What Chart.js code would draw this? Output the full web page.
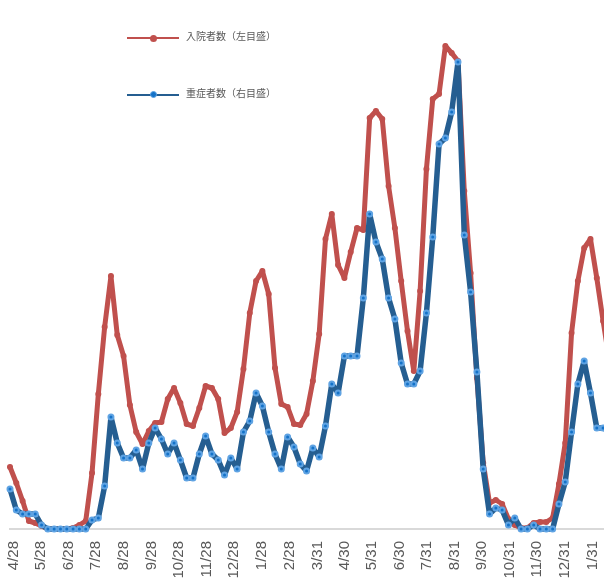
<!DOCTYPE html>
<html lang="ja">
<head>
<meta charset="utf-8">
<title>入院者数・重症者数</title>
<script src="https://cdn.jsdelivr.net/npm/chart.js@4.4.1/dist/chart.umd.min.js"></script>
<style>
  body { margin: 0; background: #fff; }
  #wrap { position: relative; width: 604px; height: 584px; }
  .legend-item { position: absolute; left: 127px; width: 200px; height: 12px; font-family: "Noto Sans CJK JP", sans-serif; font-size: 10px; line-height: 12px; color: #595959; white-space: nowrap; }
  .legend-line { position: absolute; left: 0; top: 5px; width: 52px; height: 2px; }
  .legend-dot { position: absolute; left: 22.5px; top: 2.5px; width: 7px; height: 7px; border-radius: 50%; box-sizing: border-box; }
  .legend-text { position: absolute; left: 59px; top: -2px; }
</style>
</head>
<body>
<div id="wrap">
  <canvas id="chart" width="604" height="584"></canvas>
</div>
<script>
let startDate = "2020-04-24";
let endDate = "2022-02-12";

let seriesNames = ["入院者数（左目盛）", "重症者数（右目盛）"];

let weekDates = [
  "2020-04-24", "2020-05-01", "2020-05-08", "2020-05-15", "2020-05-22", "2020-05-29",
  "2020-06-05", "2020-06-12", "2020-06-19", "2020-06-26", "2020-07-03", "2020-07-10",
  "2020-07-17", "2020-07-24", "2020-07-31", "2020-08-07", "2020-08-14", "2020-08-21",
  "2020-08-28", "2020-09-04", "2020-09-11", "2020-09-18", "2020-09-25", "2020-10-02",
  "2020-10-09", "2020-10-16", "2020-10-23", "2020-10-30", "2020-11-06", "2020-11-13",
  "2020-11-20", "2020-11-27", "2020-12-04", "2020-12-11", "2020-12-18", "2020-12-25",
  "2021-01-01", "2021-01-08", "2021-01-15", "2021-01-22", "2021-01-29", "2021-02-05",
  "2021-02-12", "2021-02-19", "2021-02-26", "2021-03-05", "2021-03-12", "2021-03-19",
  "2021-03-26", "2021-04-02", "2021-04-09", "2021-04-16", "2021-04-23", "2021-04-30",
  "2021-05-07", "2021-05-14", "2021-05-21", "2021-05-28", "2021-06-04", "2021-06-11",
  "2021-06-18", "2021-06-25", "2021-07-02", "2021-07-09", "2021-07-16", "2021-07-23",
  "2021-07-30", "2021-08-06", "2021-08-13", "2021-08-20", "2021-08-27", "2021-09-03",
  "2021-09-10", "2021-09-17", "2021-09-24", "2021-10-01", "2021-10-08", "2021-10-15",
  "2021-10-22", "2021-10-29", "2021-11-05", "2021-11-12", "2021-11-19", "2021-11-26",
  "2021-12-03", "2021-12-10", "2021-12-17", "2021-12-24", "2021-12-31", "2022-01-07",
  "2022-01-14", "2022-01-21", "2022-01-28", "2022-02-04", "2022-02-11", "2022-02-18",
];

// 入院者数 (left axis)
let admitted = [
  310, 230, 140, 40, 30, 15, 0, 0, 0, 0, 5, 20,
  40, 280, 675, 1010, 1265, 970, 865, 620, 485, 425, 490, 530,
  535, 650, 705, 630, 525, 515, 605, 715, 705, 650, 480, 505,
  585, 800, 1080, 1240, 1290, 1175, 805, 625, 610, 525, 520, 575,
  740, 975, 1450, 1575, 1320, 1255, 1385, 1505, 1495, 2055, 2090, 2050,
  1715, 1505, 1240, 990, 790, 1190, 1800, 2150, 2175, 2415, 2380, 2340,
  1690, 1280, 755, 330, 130, 145, 125, 50, 20, 5, 5, 30,
  35, 35, 55, 225, 430, 980, 1240, 1405, 1450, 1255, 1040, 840,
];

// 重症者数 (right axis)
let severe = [
  40, 19, 15, 15, 15, 4, 0, 0, 0, 0, 0, 0,
  0, 9, 11, 43, 112, 86, 71, 71, 79, 60, 86, 101,
  90, 75, 86, 69, 51, 51, 75, 93, 75, 69, 54, 71,
  60, 97, 108, 136, 123, 97, 75, 60, 92, 82, 65, 58,
  81, 72, 103, 145, 136, 173, 173, 173, 231, 315, 287, 270,
  231, 210, 166, 145, 145, 158, 216, 292, 385, 391, 417, 467,
  294, 237, 157, 60, 15, 21, 19, 4, 11, 0, 0, 4,
  0, 0, 0, 25, 47, 97, 145, 168, 136, 101, 101, 98,
];

let tickDates = [
  "2020-04-28", "2020-05-28", "2020-06-28", "2020-07-28", "2020-08-28", "2020-09-28",
  "2020-10-28", "2020-11-28", "2020-12-28", "2021-01-28", "2021-02-28", "2021-03-31",
  "2021-04-30", "2021-05-31", "2021-06-30", "2021-07-31", "2021-08-31", "2021-09-30",
  "2021-10-31", "2021-11-30", "2021-12-31", "2022-01-31",
];
let tickLabels = [
  "4/28", "5/28", "6/28", "7/28", "8/28", "9/28", "10/28", "11/28", "12/28", "1/28", "2/28",
  "3/31", "4/30", "5/31", "6/30", "7/31", "8/31", "9/30", "10/31", "11/30", "12/31", "1/31",
];

function dayOf(dateText) {
  return (Date.parse(dateText) - Date.parse(startDate)) / 86400000;
}

function toPoints(values) {
  let points = [];
  for (let i = 0; i < values.length; i++) {
    points.push({ x: dayOf(weekDates[i]), y: values[i] });
  }
  return points;
}

let redLine = "#C0504D";
let blueLine = "#255E91";
let blueRing = "#5FA3E3";
let blueDot = "#1472C8";

const ctx = document.getElementById("chart");

let chart = new Chart(ctx, {
  type: "line",
  data: {
    datasets: [
      {
        label: seriesNames[0],
        data: toPoints(admitted),
        yAxisID: "y",
        order: 2,
        clip: false,
        borderColor: redLine,
        backgroundColor: redLine,
        borderWidth: 5,
        borderJoinStyle: "round",
        borderCapStyle: "round",
        pointRadius: 3,
        pointBorderWidth: 0,
        pointBackgroundColor: redLine,
      },
      {
        label: seriesNames[1],
        data: toPoints(severe),
        yAxisID: "y1",
        order: 1,
        clip: false,
        borderColor: blueLine,
        backgroundColor: blueLine,
        borderWidth: 5.5,
        borderJoinStyle: "round",
        borderCapStyle: "round",
        pointRadius: 2.5,
        pointBorderWidth: 2,
        pointBorderColor: blueRing,
        pointBackgroundColor: blueDot,
      },
    ],
  },
  options: {
    responsive: false,
    animation: false,
    layout: {
      autoPadding: false,
      padding: { left: 10, right: 0, top: 0, bottom: 0 },
    },
    plugins: {
      legend: { display: false },
      tooltip: { enabled: false },
    },
    scales: {
      x: {
        type: "linear",
        min: 0,
        max: dayOf(endDate),
        grid: { display: false, drawTicks: false },
        border: { display: true, color: "#D9D9D9", width: 2 },
        ticks: {
          autoSkip: false,
          minRotation: 90,
          maxRotation: 90,
          padding: 12,
          color: "#595959",
          font: { family: "'Liberation Sans', Arial, sans-serif", size: 15 },
          callback: function (value, index) {
            return tickLabels[index];
          },
        },
        afterBuildTicks: function (scale) {
          scale.ticks = tickDates.map(function (d) {
            return { value: dayOf(d) };
          });
        },
        afterFit: function (scale) {
          scale.height = 55;
          scale.paddingLeft = 0;
          scale.paddingRight = 0;
        },
      },
      y: { display: false, min: 0, max: 2645 },
      y1: { display: false, position: "right", min: 0, max: 529 },
    },
  },
});

// legend laid out like the original: two rows far apart, top left
let legendTops = [32, 88.5];
let wrap = document.getElementById("wrap");
chart.data.datasets.forEach(function (ds, i) {
  let item = document.createElement("div");
  item.className = "legend-item";
  item.style.top = legendTops[i] + "px";

  let line = document.createElement("div");
  line.className = "legend-line";
  line.style.background = ds.borderColor;

  let dot = document.createElement("div");
  dot.className = "legend-dot";
  dot.style.background = ds.pointBackgroundColor;
  if (ds.pointBorderWidth) {
    dot.style.border = "1.5px solid " + ds.pointBorderColor;
  }

  let text = document.createElement("span");
  text.className = "legend-text";
  text.textContent = ds.label;

  item.append(line, dot, text);
  wrap.append(item);
});
</script>
</body>
</html>
